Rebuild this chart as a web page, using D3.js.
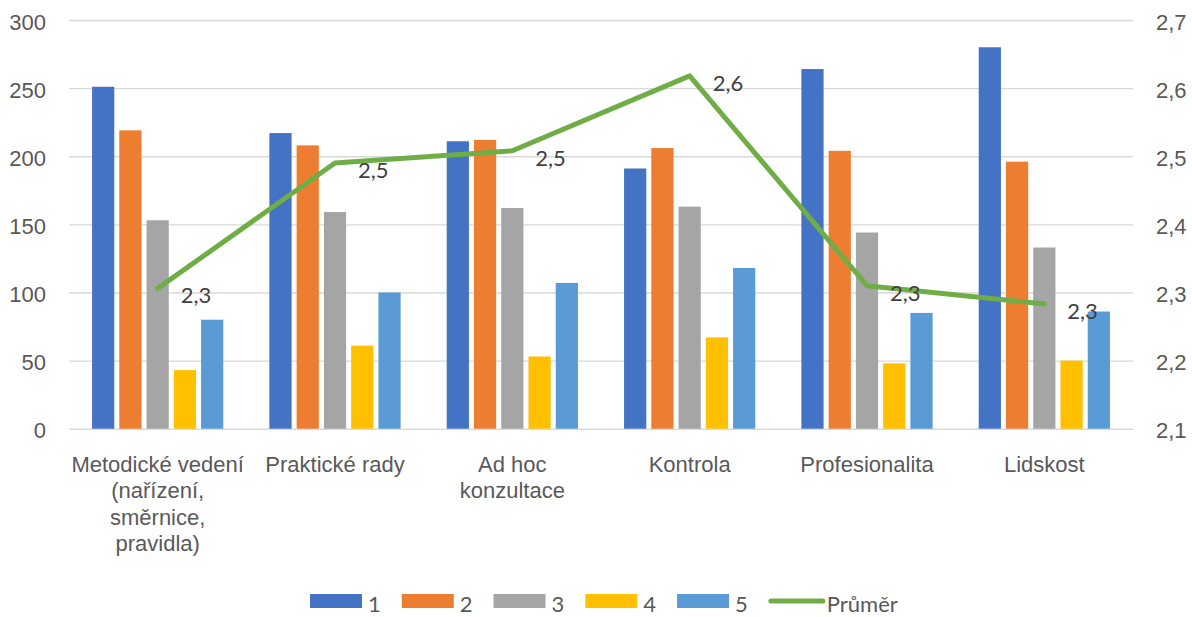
<!DOCTYPE html>
<html>
<head>
<meta charset="utf-8">
<script src="https://cdn.jsdelivr.net/npm/d3@7"></script>
<style>
  body { margin: 0; background: #fff; }
  svg { display: block; font-family: Lato, "Open Sans", sans-serif; }
</style>
</head>
<body>
<div id="chart"></div>
<script>
// categories (line breaks as in the original axis labels)
const categories = [
    "Metodické vedení\n(nařízení,\nsměrnice,\npravidla)",
    "Praktické rady",
    "Ad hoc\nkonzultace",
    "Kontrola",
    "Profesionalita",
    "Lidskost"
];
const seriesNames = ["1", "2", "3", "4", "5"];
const values1 = [251, 217, 211, 191, 264, 280];
const values2 = [219, 208, 212, 206, 204, 196];
const values3 = [153, 159, 162, 163, 144, 133];
const values4 = [43, 61, 53, 67, 48, 50];
const values5 = [80, 100, 107, 118, 85, 86];
const average = [2.306, 2.490, 2.508, 2.618, 2.310, 2.283];
const averageName = "Průměr";
const leftTicks = [0, 50, 100, 150, 200, 250, 300];
const rightTicks = [2.1, 2.2, 2.3, 2.4, 2.5, 2.6, 2.7];

const colors = ["#4472C4", "#ED7D31", "#A5A5A5", "#FFC000", "#5B9BD5"];
const lineColor = "#70AD47";
const textColor = "#595959";

const width = 1192, height = 617;
const plotLeft = 69, plotRight = 1133, plotTop = 20, plotBottom = 428.7;

const allSeries = [values1, values2, values3, values4, values5];
const rows = categories.map((c, i) => ({
    cat: c,
    vals: seriesNames.map((s, j) => ({ key: s, value: allSeries[j][i] }))
}));

const svg = d3.select("#chart").append("svg")
    .attr("width", width)
    .attr("height", height);

const x0 = d3.scaleBand()
    .domain(categories)
    .range([plotLeft, plotRight])
    .paddingInner(0.26)
    .paddingOuter(0.13);

const x1 = d3.scaleBand()
    .domain(seriesNames)
    .range([0, x0.bandwidth()])
    .paddingInner(0.185);

const yL = d3.scaleLinear().domain([0, 300]).range([plotBottom, plotTop]);
const yR = d3.scaleLinear().domain([2.1, 2.7]).range([plotBottom, plotTop]);

// left axis + gridlines
const gL = svg.append("g")
    .attr("transform", `translate(${plotLeft},0)`)
    .call(d3.axisLeft(yL).tickValues(leftTicks).tickSize(-(plotRight - plotLeft)).tickPadding(23));
gL.select(".domain").remove();
gL.selectAll(".tick line").attr("stroke", "#d9d9d9").attr("stroke-width", 1.4);
gL.selectAll(".tick text")
    .attr("fill", textColor)
    .style("font-size", "22px")
    .attr("dy", "0.42em");

// right axis
const commaFmt = v => d3.format(".1f")(v).replace(".", ",");
const gR = svg.append("g")
    .attr("transform", `translate(${plotRight},0)`)
    .call(d3.axisRight(yR).tickValues(rightTicks).tickSize(0).tickPadding(23).tickFormat(commaFmt));
gR.select(".domain").remove();
gR.selectAll(".tick text")
    .attr("fill", textColor)
    .style("font-size", "22px")
    .attr("dy", "0.42em");

// bars
const groups = svg.append("g").selectAll("g")
    .data(rows)
    .enter()
    .append("g")
    .attr("transform", d => `translate(${x0(d.cat)},0)`);

groups.selectAll("rect")
    .data(d => d.vals)
    .enter()
    .append("rect")
    .attr("x", d => x1(d.key))
    .attr("y", d => yL(d.value))
    .attr("width", x1.bandwidth())
    .attr("height", d => yL(0) - yL(d.value))
    .attr("fill", (d, i) => colors[i]);

// x axis labels
const gX = svg.append("g")
    .attr("transform", `translate(0,${plotBottom})`)
    .call(d3.axisBottom(x0).tickSize(0).tickFormat(""));
gX.select(".domain").remove();
gX.selectAll(".tick").each(function (d) {
    const t = d3.select(this).append("text")
        .attr("fill", textColor)
        .attr("text-anchor", "middle")
        .style("font-size", "22px");
    d.split("\n").forEach((line, i) => {
        t.append("tspan")
            .attr("x", 0)
            .attr("y", 43 + i * 26.5)
            .text(line);
    });
});

// average line
const xc = i => x0(categories[i]) + x0.bandwidth() / 2;
const line = d3.line()
    .x((d, i) => xc(i))
    .y(d => yR(d));

svg.append("path")
    .datum(average)
    .attr("d", line)
    .attr("fill", "none")
    .attr("stroke", lineColor)
    .attr("stroke-width", 5)
    .attr("stroke-linejoin", "round")
    .attr("stroke-linecap", "round");

svg.append("g").selectAll("text")
    .data(average)
    .enter()
    .append("text")
    .attr("x", (d, i) => xc(i) + 23)
    .attr("y", d => yR(d) + 7)
    .attr("dy", "0.36em")
    .attr("fill", "#404040")
    .style("font-size", "22px")
    .text(d => commaFmt(d));

// legend
const legend = svg.append("g");
let lx = 310;
const legendItems = seriesNames.map((s, i) => ({ name: s, color: colors[i], type: "bar" }))
    .concat([{ name: averageName, color: lineColor, type: "line" }]);

legendItems.forEach(item => {
    if (item.type === "bar") {
        legend.append("rect")
            .attr("x", lx)
            .attr("y", 594)
            .attr("width", 52)
            .attr("height", 14)
            .attr("fill", item.color);
    } else {
        legend.append("line")
            .attr("x1", lx + 2)
            .attr("x2", lx + 54)
            .attr("y1", 601)
            .attr("y2", 601)
            .attr("stroke", item.color)
            .attr("stroke-width", 5)
            .attr("stroke-linecap", "round");
    }
    const t = legend.append("text")
        .attr("x", lx + 58)
        .attr("y", 612)
        .attr("fill", textColor)
        .style("font-size", "22px")
        .text(item.name);
    lx += 58 + t.node().getComputedTextLength() + 21;
});
</script>
</body>
</html>
